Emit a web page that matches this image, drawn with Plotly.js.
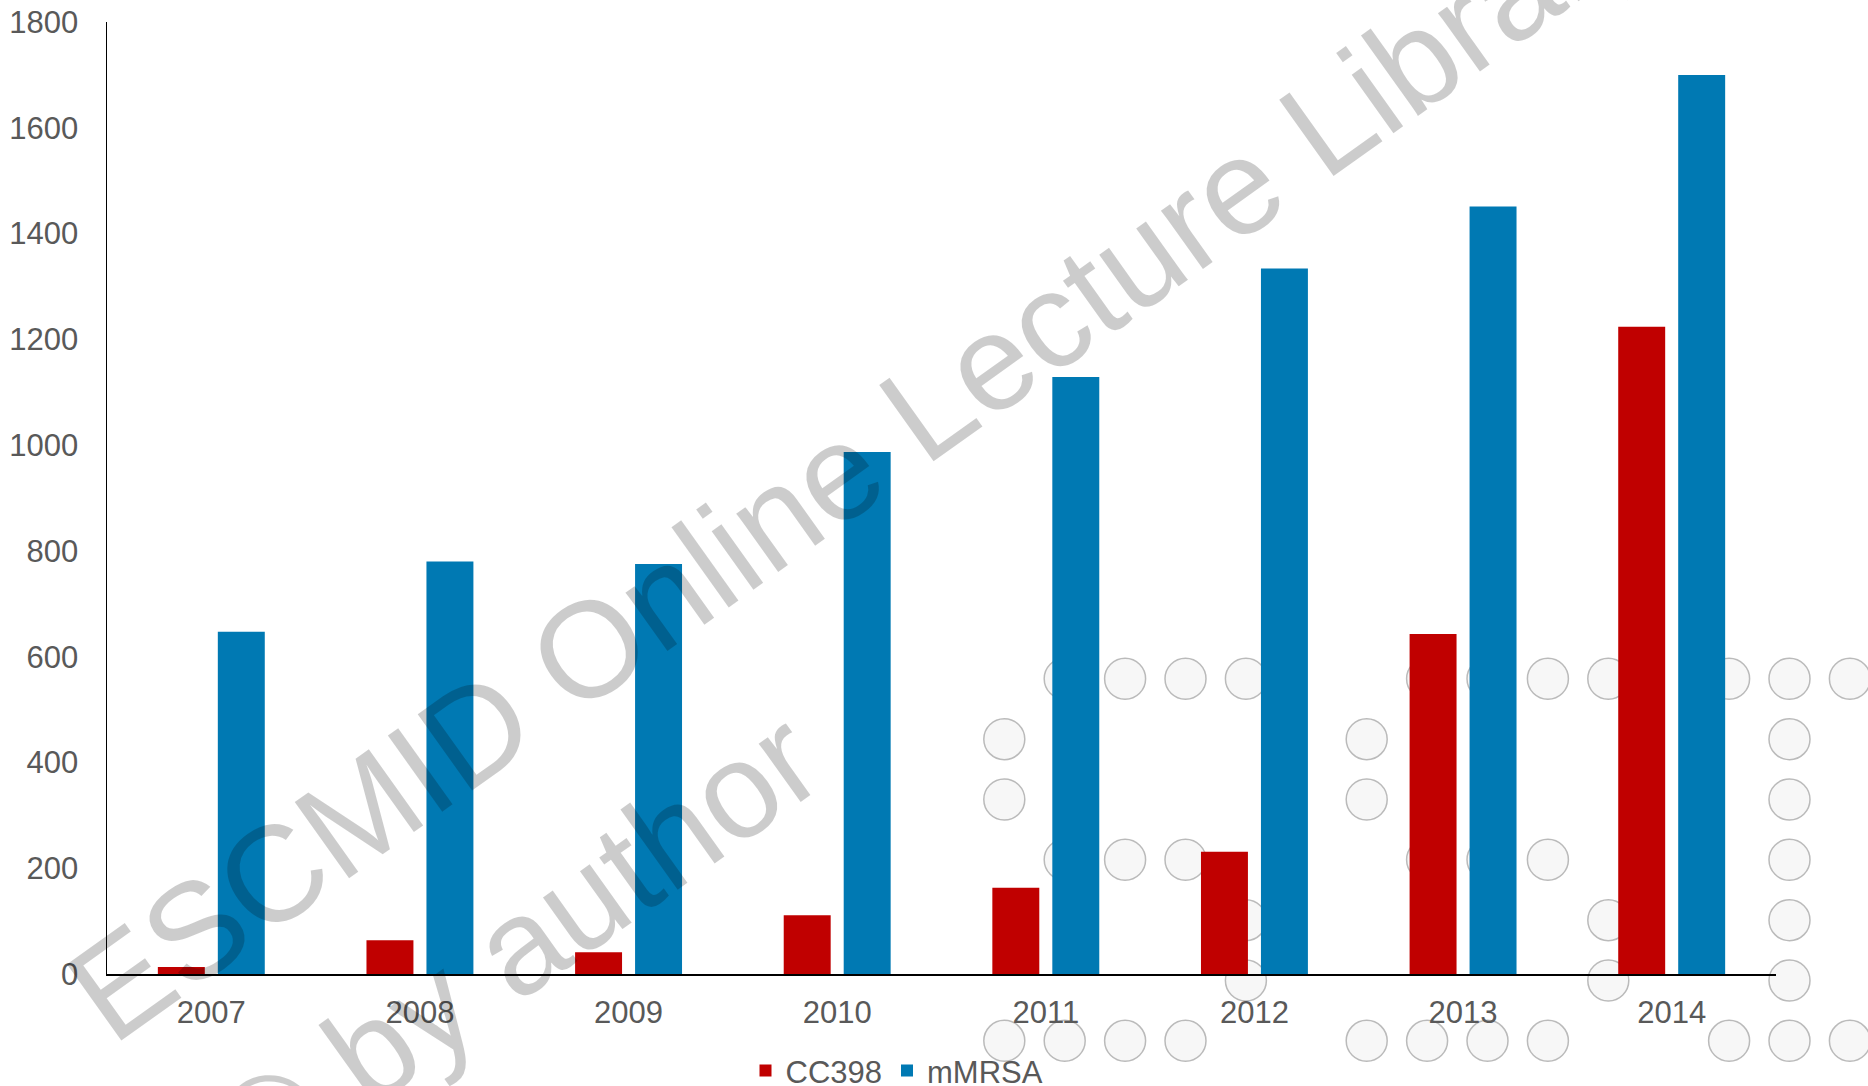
<!DOCTYPE html>
<html>
<head>
<meta charset="utf-8">
<script src="https://cdn.plot.ly/plotly-3.0.1.min.js"></script>
<style>
  html, body { margin: 0; padding: 0; background: #ffffff; }
  #chart { width: 1868px; height: 1086px; }
</style>
</head>
<body>
<div id="chart"></div>
<script>
// Yearly isolate counts
const years = ['2007', '2008', '2009', '2010', '2011', '2012', '2013', '2014'];
const cc398 = [13, 64, 41, 111, 163, 231, 643, 1224];
const mmrsa = [647, 780, 775, 987, 1129, 1334, 1451, 1700];

const seriesNames = ['CC398', 'mMRSA'];
const seriesColors = ['#C00000', '#0079B3'];

// Watermark lines
const watermarkLines = ['ESCMID Online Lecture Library', '\u00A9 by author'];

// Dot-matrix logo drawn faintly behind the bars ("SSI")
const logoRows = [
  '.XXXX..XXXX.XXX',
  'X.....X......X.',
  'X.....X......X.',
  '.XXX...XXX...X.',
  '....X.....X..X.',
  '....X.....X..X.',
  'XXXX..XXXX..XXX'
];

const W = 1868, H = 1086;
const M = { l: 107, r: 92, t: 21.5, b: 111.5, autoexpand: false };
const PW = W - M.l - M.r, PH = H - M.t - M.b;
const px2x = px => (px - M.l) / PW;
const px2y = py => (H - M.b - py) / PH;

const axisFont = { family: 'Liberation Sans, Arial, sans-serif', size: 31, color: '#595959' };

const traces = [
  { type: 'bar', name: seriesNames[0], x: years, y: cc398,
    marker: { color: seriesColors[0], line: { width: 0 } }, hoverinfo: 'skip' },
  { type: 'bar', name: seriesNames[1], x: years, y: mmrsa,
    marker: { color: seriesColors[1], line: { width: 0 } }, hoverinfo: 'skip' }
];

// logo circles
const shapes = [];
const col0 = 1004.3, row0 = 679, step = 60.4, rad = 20.5;
logoRows.forEach((row, r) => {
  row.split('').forEach((ch, c) => {
    if (ch !== 'X') return;
    const cx = col0 + c * step, cy = row0 + r * step;
    shapes.push({
      type: 'circle', xref: 'paper', yref: 'paper', layer: 'below',
      x0: px2x(cx - rad), x1: px2x(cx + rad),
      y0: px2y(cy + rad), y1: px2y(cy - rad),
      fillcolor: 'rgba(246,246,246,0.85)',
      line: { color: 'rgba(170,170,170,0.8)', width: 1.5 }
    });
  });
});

const wmFont = { family: 'Liberation Sans, Arial, sans-serif', size: 136, color: 'rgba(0,0,0,0.2)' };
const annotations = [
  { text: watermarkLines[0], xref: 'paper', yref: 'paper', x: px2x(860), y: px2y(456),
    xanchor: 'center', yanchor: 'middle', showarrow: false, textangle: -35.5, font: wmFont },
  { text: watermarkLines[1], xref: 'paper', yref: 'paper', x: px2x(515), y: px2y(948),
    xanchor: 'center', yanchor: 'middle', showarrow: false, textangle: -35.5, font: wmFont }
];

const layout = {
  width: W, height: H,
  margin: M,
  paper_bgcolor: '#ffffff',
  plot_bgcolor: 'rgba(0,0,0,0)',
  barmode: 'group',
  bargap: 0.425,
  bargroupgap: 0.217,
  font: axisFont,
  xaxis: {
    type: 'category',
    showgrid: false, zeroline: false,
    showline: true, linecolor: '#000000', linewidth: 2,
    ticks: '', tickfont: axisFont, ticklabelstandoff: 10
  },
  yaxis: {
    range: [0, 1800], dtick: 200, tick0: 0,
    showgrid: false, zeroline: false,
    showline: true, linecolor: '#000000', linewidth: 1.5,
    ticks: '', tickfont: axisFont, ticklabelstandoff: 21
  },
  showlegend: true,
  legend: {
    orientation: 'h',
    x: px2x(745.5), xanchor: 'left',
    y: px2y(1071.5), yanchor: 'middle',
    font: axisFont,
    bgcolor: 'rgba(0,0,0,0)',
    traceorder: 'normal'
  },
  shapes: shapes,
  annotations: annotations
};

Plotly.newPlot('chart', traces, layout, { displayModeBar: false, staticPlot: true });
</script>
</body>
</html>
